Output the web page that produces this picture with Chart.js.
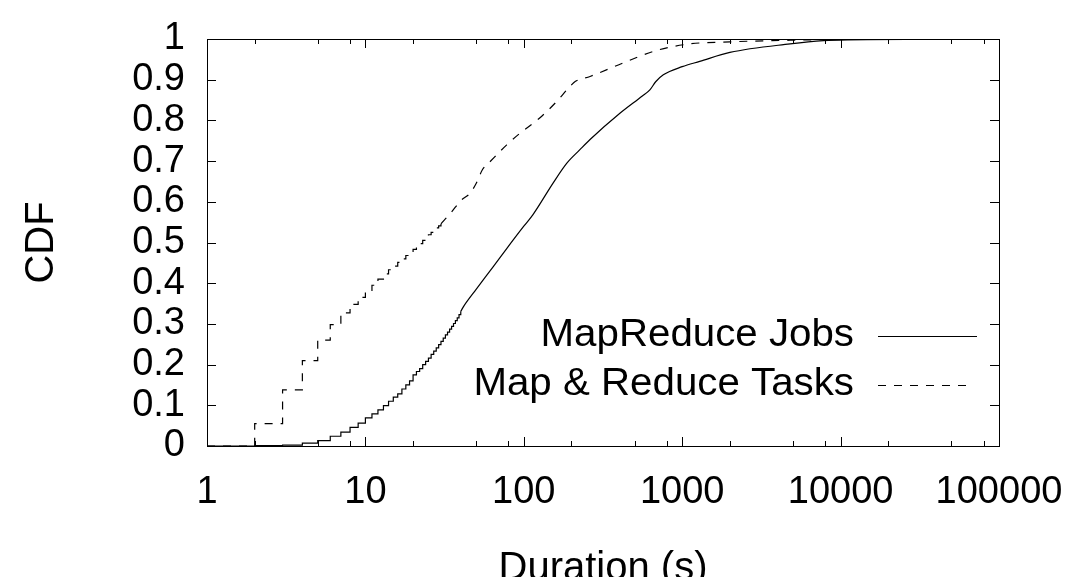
<!DOCTYPE html>
<html>
<head>
<meta charset="utf-8">
<script src="https://cdn.jsdelivr.net/npm/chart.js@4.4.1/dist/chart.umd.min.js"></script>
<style>
  html, body { margin: 0; padding: 0; background: #fff; }
  #wrap { width: 1070px; height: 577px; }
</style>
</head>
<body>
<div id="wrap"><canvas id="cdfChart" width="1070" height="577"></canvas></div>
<script>
// Axis ticks
const xTicks = [1, 10, 100, 1000, 10000, 100000];
const xMinor = [2, 5, 8];
const yTicks = [0, 0.1, 0.2, 0.3, 0.4, 0.5, 0.6, 0.7, 0.8, 0.9, 1];

// MapReduce Jobs - stepped part (whole seconds), then smooth tail
const jobStepDur = [1, 2, 3, 4, 5, 6, 7, 8, 9, 10, 11, 12, 13, 14, 15, 16, 17, 18, 19, 20,
    21, 22, 23, 24, 25, 26, 27, 28, 29, 30, 31, 32, 33, 34, 35, 36, 37, 38, 39, 40];
const jobStepCdf = [0, 0.001, 0.002, 0.007, 0.013, 0.024, 0.034, 0.046, 0.056, 0.069, 0.079, 0.089, 0.099, 0.11, 0.12, 0.128, 0.14, 0.15, 0.16, 0.175,
    0.183, 0.19, 0.2, 0.208, 0.216, 0.225, 0.233, 0.241, 0.249, 0.257, 0.265, 0.273, 0.28, 0.287, 0.294, 0.301, 0.308, 0.315, 0.323, 0.331];
const jobTailDur = [40, 42, 50, 64, 78, 100, 114, 153, 187, 226, 262, 406, 560, 625, 680, 760, 1000, 1290, 2000, 4800, 7800, 11000, 100000];
const jobTailCdf = [0.331, 0.345, 0.385, 0.44, 0.485, 0.54, 0.568, 0.646, 0.695, 0.728, 0.753, 0.818, 0.86, 0.875, 0.895, 0.912, 0.932, 0.945, 0.967, 0.988, 0.996, 0.998, 1];

// Map & Reduce Tasks
const taskStepDur = [1, 2, 3, 4, 5, 6, 7, 8, 9, 10, 11, 12, 13, 14, 15, 16, 17, 18, 19, 20,
    21, 22, 23, 24, 25, 26, 27, 28, 29, 30];
const taskStepCdf = [0, 0.055, 0.138, 0.21, 0.26, 0.298, 0.327, 0.348, 0.365, 0.38, 0.395, 0.41, 0.423, 0.433, 0.442, 0.451, 0.46, 0.468, 0.476, 0.483,
    0.49, 0.497, 0.505, 0.512, 0.519, 0.525, 0.53, 0.536, 0.541, 0.546];
const taskTailDur = [30, 35, 40, 46, 50, 55, 60, 78, 95, 126, 160, 196, 212, 262, 423, 690, 1120, 2000, 4800, 10000, 100000];
const taskTailCdf = [0.546, 0.575, 0.603, 0.622, 0.645, 0.68, 0.695, 0.74, 0.769, 0.806, 0.845, 0.884, 0.896, 0.908, 0.941, 0.972, 0.988, 0.993, 0.997, 0.999, 1];

const seriesNames = ['MapReduce Jobs', 'Map & Reduce Tasks'];

const FONT = '"Liberation Sans", Arial, Helvetica, sans-serif';
const DASH = [8, 8];

function pts(xs, ys) {
    return xs.map((v, i) => ({ x: v, y: ys[i] }));
}

// frame with inward ticks on all four sides (gnuplot style)
const framePlugin = {
    id: 'frame',
    afterDraw(chart) {
        const { ctx, chartArea: a, scales: { x, y } } = chart;
        ctx.save();
        ctx.strokeStyle = '#000';
        ctx.lineWidth = 1;
        ctx.strokeRect(a.left + 0.5, a.top + 0.5, a.right - a.left, a.bottom - a.top);
        ctx.beginPath();
        yTicks.forEach(v => {
            const py = Math.round(y.getPixelForValue(v)) + 0.5;
            ctx.moveTo(a.left, py); ctx.lineTo(a.left + 9, py);
            ctx.moveTo(a.right, py); ctx.lineTo(a.right - 9, py);
        });
        xTicks.forEach((v, i) => {
            const px = Math.round(x.getPixelForValue(v)) + 0.5;
            ctx.moveTo(px, a.bottom); ctx.lineTo(px, a.bottom - 9);
            ctx.moveTo(px, a.top); ctx.lineTo(px, a.top + 9);
            if (i < xTicks.length - 1) {
                xMinor.forEach(m => {
                    const mx = Math.round(x.getPixelForValue(v * m)) + 0.5;
                    ctx.moveTo(mx, a.bottom); ctx.lineTo(mx, a.bottom - 5);
                    ctx.moveTo(mx, a.top); ctx.lineTo(mx, a.top + 5);
                });
            }
        });
        ctx.stroke();
        ctx.restore();
    }
};

// key inside the plot, text right-aligned with the line sample after it
const keyPlugin = {
    id: 'key',
    afterDraw(chart) {
        const { ctx, chartArea: a } = chart;
        const sx = 1.06; // the original lettering is a little wide
        ctx.save();
        ctx.strokeStyle = '#000';
        ctx.lineWidth = 1.2;
        seriesNames.forEach((name, i) => {
            const cy = 336 + i * 49;
            ctx.save();
            ctx.translate(a.right - 145, cy);
            ctx.scale(sx, 1);
            ctx.font = '38px ' + FONT;
            ctx.fillStyle = '#000';
            ctx.textAlign = 'right';
            ctx.textBaseline = 'middle';
            ctx.fillText(name, 0, 0);
            ctx.restore();
            ctx.beginPath();
            ctx.setLineDash(i === 0 ? [] : DASH);
            ctx.moveTo(a.right - 121, cy + 0.5);
            ctx.lineTo(a.right - (i === 0 ? 22 : 28), cy + 0.5);
            ctx.stroke();
        });
        ctx.restore();
    }
};

const lineStyle = {
    borderColor: '#000',
    backgroundColor: 'transparent',
    borderWidth: 1.2,
    pointRadius: 0,
    fill: false
};

new Chart(document.getElementById('cdfChart'), {
    type: 'line',
    data: {
        datasets: [
            { ...lineStyle, label: seriesNames[0], data: pts(jobStepDur, jobStepCdf), stepped: true },
            { ...lineStyle, label: seriesNames[0], data: pts(jobTailDur, jobTailCdf), cubicInterpolationMode: 'monotone' },
            { ...lineStyle, label: seriesNames[1], data: pts(taskStepDur, taskStepCdf), stepped: true, borderDash: DASH },
            { ...lineStyle, label: seriesNames[1], data: pts(taskTailDur, taskTailCdf), cubicInterpolationMode: 'monotone', borderDash: DASH }
        ]
    },
    options: {
        responsive: false,
        animation: false,
        devicePixelRatio: 1,
        layout: { padding: { top: 39, right: 71, left: 0, bottom: 0 } },
        plugins: {
            legend: { display: false },
            tooltip: { enabled: false }
        },
        scales: {
            x: {
                type: 'logarithmic',
                min: 1,
                max: 100000,
                afterBuildTicks: s => { s.ticks = xTicks.map(v => ({ value: v })); },
                afterFit: s => { s.height = 131; s.paddingLeft = 0; s.paddingRight = 0; },
                grid: { display: false, drawTicks: false },
                border: { display: false },
                ticks: {
                    color: '#000',
                    padding: 24,
                    maxRotation: 0,
                    autoSkip: false,
                    font: { family: FONT, size: 38 },
                    callback: v => String(v)
                },
                title: {
                    display: true,
                    text: 'Duration (s)',
                    color: '#000',
                    font: { family: FONT, size: 40, lineHeight: 1 },
                    padding: { top: 0, bottom: -12 }
                }
            },
            y: {
                type: 'linear',
                min: 0,
                max: 1,
                afterBuildTicks: s => { s.ticks = yTicks.map(v => ({ value: v })); },
                afterFit: s => { s.width = 207; s.paddingTop = 0; s.paddingBottom = 0; },
                grid: { display: false, drawTicks: false },
                border: { display: false },
                ticks: {
                    color: '#000',
                    padding: 22,
                    autoSkip: false,
                    font: { family: FONT, size: 38 },
                    callback: v => String(+v.toFixed(1))
                },
                title: {
                    display: true,
                    text: 'CDF',
                    color: '#000',
                    font: { family: FONT, size: 40, lineHeight: 1 },
                    padding: { top: 22, bottom: 0 }
                }
            }
        }
    },
    plugins: [framePlugin, keyPlugin]
});
</script>
</body>
</html>
